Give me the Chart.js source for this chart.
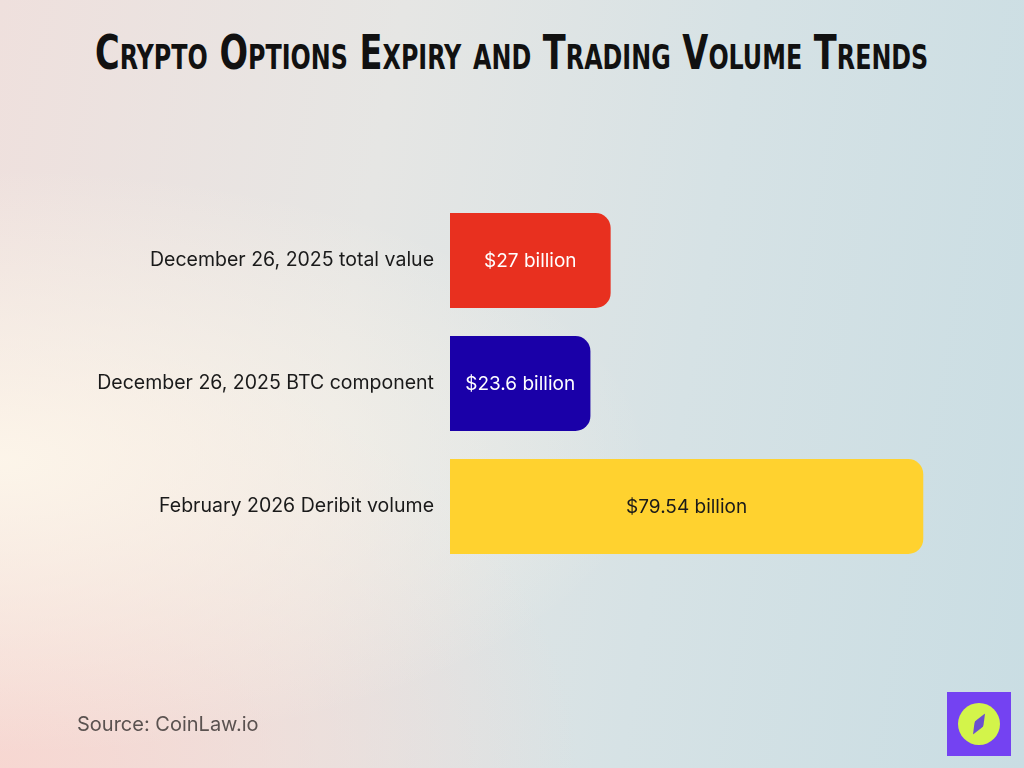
<!DOCTYPE html>
<html>
<head>
<meta charset="utf-8">
<script src="https://cdn.jsdelivr.net/npm/chart.js@4/dist/chart.umd.min.js"></script>
<style>
  html, body { margin: 0; padding: 0; }
  body {
    width: 1024px; height: 768px; position: relative; overflow: hidden;
    background:
      radial-gradient(ellipse at 0% 60%, rgba(253,246,234,0.95) 0%, rgba(253,246,234,0) 45%),
      radial-gradient(ellipse at 0% 100%, rgba(248,214,208,0.9) 0%, rgba(248,214,208,0) 40%),
      linear-gradient(100deg, #efe0dd 0%, #e6e6e4 35%, #d6e2e5 65%, #c9dde3 100%);
    font-family: "Inter", "Noto Sans", sans-serif;
  }
  #title {
    position: absolute; top: 24px; left: 95px; white-space: nowrap;
    font-family: "DejaVu Sans Condensed", "DejaVu Sans", sans-serif;
    font-weight: bold; font-variant: small-caps; font-size: 48px; line-height: 56px; color: #111;
    transform-origin: 0 0;
  }
  #source {
    position: absolute; left: 77px; top: 712px; font-size: 20px; color: #5a5250;
  }
  #logo {
    position: absolute; left: 947px; top: 692px; width: 64px; height: 64px; background: #7442f2;
  }
  #logo .c {
    position: absolute; left: 11px; top: 11px; width: 42px; height: 42px; border-radius: 50%; background: #d3f44a;
  }
  #logo .d {
    position: absolute; left: 27px; top: 20px; width: 10px; height: 24px; background: #6b4fd0;
    transform: rotate(30deg); clip-path: polygon(50% 0, 100% 50%, 50% 100%, 0 50%);
  }
  canvas { position: absolute; left: 0; top: 0; }
</style>
</head>
<body>
<div id="title">Crypto Options Expiry and Trading Volume Trends</div>
<canvas id="chart" width="1024" height="768"></canvas>
<div id="source">Source: CoinLaw.io</div>
<div id="logo"><div class="c"></div><div class="d"></div></div>
<script>
const categories = [
  "December 26, 2025 total value",
  "December 26, 2025 BTC component",
  "February 2026 Deribit volume"
];
const values = [27, 23.6, 79.54];
const valueLabels = ["$27 billion", "$23.6 billion", "$79.54 billion"];
const barColors = ["#e8301f", "#1a00a8", "#ffd22f"];
const labelColors = ["#ffffff", "#ffffff", "#1a1a1a"];

// squeeze the title to the width it has in the reference
const title = document.getElementById("title");
title.style.transform = "scaleX(" + (833 / title.offsetWidth) + ")";

const barLabels = {
  id: "barLabels",
  afterDatasetsDraw(chart) {
    const { ctx } = chart;
    const meta = chart.getDatasetMeta(0);
    ctx.save();
    ctx.font = "19px Inter, 'Noto Sans', sans-serif";
    ctx.textAlign = "center";
    ctx.textBaseline = "middle";
    meta.data.forEach((bar, i) => {
      const cx = (bar.base + bar.x) / 2;
      ctx.fillStyle = labelColors[i];
      ctx.fillText(valueLabels[i], cx, bar.y + 1);
    });
    ctx.restore();
  }
};

new Chart(document.getElementById("chart"), {
  type: "bar",
  data: {
    labels: categories,
    datasets: [{
      data: values,
      backgroundColor: barColors,
      borderRadius: { topRight: 15, bottomRight: 15, topLeft: 0, bottomLeft: 0 },
      borderSkipped: false,
      barPercentage: 1,
      categoryPercentage: 0.772
    }]
  },
  options: {
    indexAxis: "y",
    responsive: false,
    animation: false,
    layout: { padding: { top: 199, bottom: 200, left: 0, right: 98 } },
    plugins: { legend: { display: false }, tooltip: { enabled: false } },
    scales: {
      x: { min: 0, max: 80, display: false },
      y: {
        grid: { display: false },
        border: { display: false },
        afterFit(scale) { scale.width = 450; },
        ticks: {
          padding: 8,
          color: "#1a1a1a",
          font: { family: "Inter, 'Noto Sans', sans-serif", size: 19.5 }
        }
      }
    }
  },
  plugins: [barLabels]
});
</script>
</body>
</html>
